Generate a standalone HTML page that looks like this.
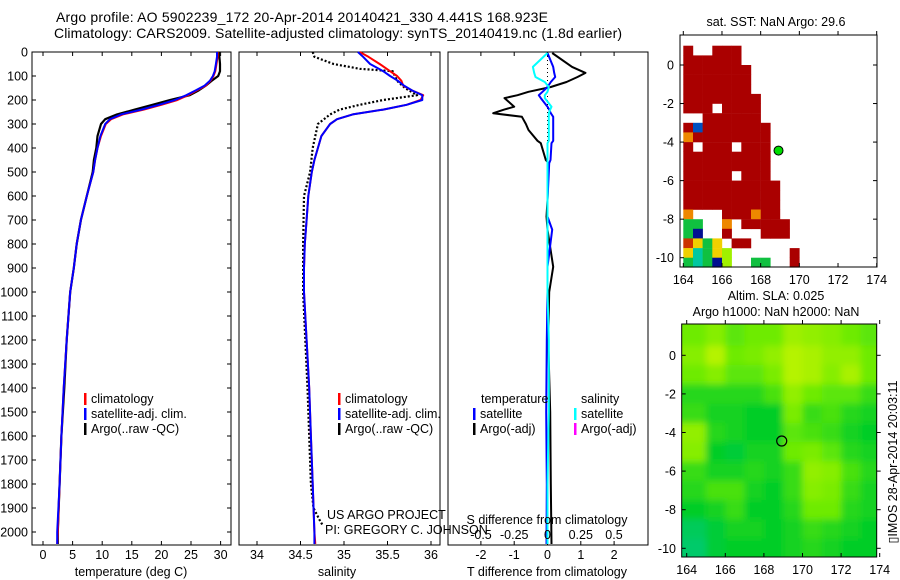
<!DOCTYPE html>
<html><head><meta charset="utf-8"><style>
html,body{margin:0;padding:0;background:#fff;}
svg{display:block;font-family:"Liberation Sans",sans-serif;}
</style></head><body>
<svg id="fig" width="900" height="580" viewBox="0 0 900 580" xmlns="http://www.w3.org/2000/svg">
<defs>
<clipPath id="clipM2"><rect x="681.7" y="324" width="195" height="233"/></clipPath>
<filter id="blur" x="0" y="0" width="1" height="1"><feGaussianBlur stdDeviation="3.5" edgeMode="duplicate"/></filter>
</defs>
<text x="302" y="22" font-size="14" text-anchor="middle" textLength="492">Argo profile: AO 5902239_172 20-Apr-2014 20140421_330 4.441S 168.923E</text>
<text x="338" y="38" font-size="14" text-anchor="middle" textLength="568">Climatology: CARS2009. Satellite-adjusted climatology: synTS_20140419.nc (1.8d earlier)</text>
<g id="layer"></g>
</svg>
<script>
// ---------- data ----------
const depths = [0,20,50,80,100,120,140,160,180,200,220,240,260,280,300,350,400,450,500,600,700,800,900,1000,1200,1400,1600,1800,2000,2050];
const tempClim = [29.5,29.5,29.3,29.1,28.8,28.3,27.5,26.0,24.5,22.7,20.0,17.0,13.5,11.5,10.6,9.8,9.2,8.8,8.5,7.4,6.4,5.7,5.2,4.6,4.0,3.5,3.1,2.8,2.5,2.4];
const tempSat  = [29.4,29.4,29.2,29.0,28.7,28.2,27.3,25.8,24.2,22.3,19.6,16.6,13.2,11.3,10.5,9.7,9.2,8.8,8.5,7.4,6.4,5.7,5.2,4.6,4.0,3.5,3.1,2.8,2.4,2.4];
const tempArgo = [29.7,29.8,29.9,29.9,29.6,28.5,27.5,26.3,24.8,21.5,18.5,15.5,12.5,10.5,9.8,9.2,9.0,8.6,8.4,7.4,6.4,5.7,5.2,4.6,4.0,3.6,3.1,2.8,2.5,2.5];
const salClim = [35.18,35.28,35.41,35.53,35.61,35.66,35.68,35.78,35.91,35.88,35.72,35.45,35.10,34.92,34.84,34.74,34.70,34.66,34.63,34.59,34.57,34.55,34.54,34.54,34.57,34.60,34.62,34.64,34.66,34.67];
const salSat  = [35.16,35.22,35.30,35.45,35.53,35.62,35.69,35.78,35.90,35.90,35.72,35.45,35.10,34.92,34.84,34.74,34.70,34.66,34.63,34.59,34.57,34.55,34.54,34.54,34.57,34.60,34.62,34.64,34.66,34.66];
const argoSalDepths = [0,20,50,70,80,120,150,180,200,220,240,260,300,400,500,600,800,1000,1400,1800,1900,1950,1975];
const salArgo = [34.64,34.66,34.88,35.18,35.56,35.61,35.70,35.84,35.45,35.18,34.95,34.84,34.70,34.64,34.61,34.54,34.53,34.53,34.58,34.62,34.65,34.72,34.76];
const diffDepths = [4,62,87,104,125,146,166,180,192,228,240,255,270,300,325,370,380,450,463,617,686,740,895,1000,1200,1500,1800,2050];
const tDiffArgo = [0.14,0.74,1.14,0.9,0.57,0.1,-0.57,-0.9,-1.29,-1.0,-1.3,-1.63,-0.77,-0.65,-0.57,-0.3,-0.2,-0.05,0.03,0.0,-0.03,0.0,0.17,0.05,0.02,0.08,0.1,0.12];
const tDiffSat  = [0.0,0.17,0.2,0.23,0.1,0.0,-0.15,-0.26,-0.2,0.0,0.05,0.1,0.17,0.17,0.17,0.17,0.12,0.09,0.05,0.0,0.0,0.14,0.0,0.0,-0.02,-0.04,-0.02,-0.03];
const sDiffSat  = [0.0,-0.11,-0.1,-0.09,-0.02,0.01,0.0,-0.02,-0.02,0.03,0.02,0.01,0.01,0.01,0.01,0.01,0.0,0.0,0.0,0.0,0.0,0.0,0.0,0.0,0.01,0.01,0.0,0.0];
const depthTicks = [0,100,200,300,400,500,600,700,800,900,1000,1100,1200,1300,1400,1500,1600,1700,1800,1900,2000];
const tempTicks = [0,5,10,15,20,25,30];
const salTicks = [34,34.5,35,35.5,36];
const salTickLabels = ["34","34.5","35","35.5","36"];
const tDiffTicks = [-2,-1,0,1,2];
const sDiffTicks = [-0.5,-0.25,0,0.25,0.5];
const sDiffLabels = ["-0.5","-0.25","0","0.25","0.5"];
const sstRows = [
"....................",
"R..RRR..............",
"RRRRRR..............",
"RRRRRRR.............",
"RRRRRRR.............",
"RRRRRRR.............",
"RRRRRRRR............",
"RRR.RRRR............",
"..RRRRRR............",
"RbRRRRRRR...........",
"oRRRRRRRR...........",
"R.RRR.RRR...........",
"RRRRRRRRR...........",
"RRRRRRRRR...........",
"RRRRR.RRR...........",
"RRRRRRRRRR..........",
"RRRRRRRRRR..........",
"RRRRRRRRRR..........",
"o...RRRoRR..........",
"gg..o.RRRRR.........",
"gn..R...RRR.........",
"rygy.RR.............",
"ycgyl......R........",
"gcgnl..gg..R........"];
const sstColors = {R:"#aa0000",r:"#cc3300",o:"#ee8800",y:"#f0d000",g:"#10c040",n:"#001090",b:"#0050c0",c:"#00c8a0",l:"#a0f000"};
const slaRows = [
[0.6,0.7,0.55,0.6,0.6,0.8,0.75,0.7,0.6,0.55],
[0.7,0.9,0.6,0.65,0.75,0.9,0.85,0.75,0.75,0.6],
[0.6,0.7,0.55,0.55,0.65,0.9,0.85,0.7,0.85,0.6],
[0.4,0.4,0.4,0.4,0.5,0.75,0.6,0.55,0.55,0.45],
[0.45,0.35,0.35,0.3,0.3,0.65,0.45,0.5,0.4,0.35],
[0.75,0.4,0.35,0.3,0.3,0.55,0.5,0.45,0.35,0.3],
[0.7,0.3,0.25,0.35,0.35,0.6,0.65,0.55,0.4,0.35],
[0.45,0.35,0.35,0.4,0.35,0.45,0.75,0.7,0.5,0.4],
[0.4,0.5,0.5,0.35,0.3,0.45,0.7,0.65,0.45,0.35],
[0.3,0.35,0.45,0.3,0.3,0.4,0.6,0.6,0.4,0.35],
[0.15,0.25,0.35,0.35,0.3,0.35,0.45,0.4,0.35,0.3],
[0.1,0.25,0.3,0.3,0.3,0.35,0.4,0.35,0.3,0.3]];
const lonTicks = [164,166,168,170,172,174];
const latTicks = [0,-2,-4,-6,-8,-10];
const argoPos = [168.923,-4.441];

// ---------- helpers ----------
const NS="http://www.w3.org/2000/svg";
const layer=document.getElementById('layer');
function mk(tag,attrs,parent){const e=document.createElementNS(NS,tag);for(const k in attrs)e.setAttribute(k,attrs[k]);(parent||layer).appendChild(e);return e;}
function txt(x,y,s,size,anchor,parent){const t=mk('text',{x:x,y:y,'font-size':size,'text-anchor':anchor||'middle'},parent);t.textContent=s;return t;}
const yD=d=>52+d*0.24;
const xT=t=>43+t*5.92;
const xS=s=>257+(s-34)*87;
const xTd=v=>547.5+v*33.3;
const xSd=v=>547.5+v*133;
function line(xs,ys,color,w,dash){const p=xs.map((x,i)=>x.toFixed(1)+','+ys[i].toFixed(1)).join(' ');const a={points:p,fill:'none',stroke:color,'stroke-width':w,'stroke-linejoin':'round'};if(dash)a['stroke-dasharray']=dash;return mk('polyline',a);}

const panels=[[32,231],[239,440],[448,648]];
panels.forEach((p,i)=>{const r=mk('rect',{x:p[0],y:52,width:p[1]-p[0],height:493,fill:'none',stroke:'#000','stroke-width':1});

});

depthTicks.forEach(d=>{const y=yD(d);
mk('line',{x1:32,y1:y,x2:36,y2:y,stroke:'#000'});mk('line',{x1:231,y1:y,x2:227,y2:y,stroke:'#000'});
const t=txt(28,y+4.5,String(d),12.5,'end');

});

tempTicks.forEach(v=>{const x=xT(v);mk('line',{x1:x,y1:545,x2:x,y2:541,stroke:'#000'});mk('line',{x1:x,y1:52,x2:x,y2:56,stroke:'#000'});
const t=txt(x,559,String(v),12.5);

});
let at=txt(131,576,'temperature (deg C)',12.5);



salTicks.forEach((v,i)=>{const x=xS(v);mk('line',{x1:x,y1:545,x2:x,y2:541,stroke:'#000'});mk('line',{x1:x,y1:52,x2:x,y2:56,stroke:'#000'});
const t=txt(x,559,salTickLabels[i],12.5);

});
at=txt(337,576,'salinity',12.5);



tDiffTicks.forEach(v=>{const x=xTd(v);mk('line',{x1:x,y1:545,x2:x,y2:541,stroke:'#000'});mk('line',{x1:x,y1:52,x2:x,y2:56,stroke:'#000'});
const t=txt(x,559,String(v),12.5);

});
at=txt(547,576,'T difference from climatology',12.5);



let e;
e=line(tempArgo.map(xT),depths.map(yD),'#000',2.2);


e=line(tempClim.map(xT),depths.map(yD),'#ff0000',2);


e=line(tempSat.map(xT),depths.map(yD),'#0000ff',2);



e=line(salArgo.map(xS),argoSalDepths.map(yD),'#000',2.2,'2,2');


e=line(salClim.map(xS),depths.map(yD),'#ff0000',2);


e=line(salSat.map(xS),depths.map(yD),'#0000ff',2);



mk('line',{x1:xTd(0),y1:52,x2:xTd(0),y2:yD(500),stroke:'#000','stroke-dasharray':'1,3'});
e=line(tDiffArgo.map(xTd),diffDepths.map(yD),'#000',2);


e=line(tDiffSat.map(xTd),diffDepths.map(yD),'#0000ff',2);


e=line(sDiffSat.map(xSd),diffDepths.map(yD),'#00ffff',2);



sDiffTicks.forEach((v,i)=>{const x=xSd(v);const t=txt(x,539,sDiffLabels[i],12.5);

});
at=txt(547,524,'S difference from climatology',12.5);



function legItem(x,y,color,label,name){mk('rect',{x:x,y:y-10,width:2.5,height:12,fill:color});const t=txt(x+7,y,label,12.5,'start');

}
legItem(84,403,'#ff0000','climatology','legend-climatology');
legItem(84,418,'#0000ff','satellite-adj. clim.','legend-satellite-adj');
legItem(84,433,'#000','Argo(..raw -QC)','legend-argo');
legItem(338,403,'#ff0000','climatology','legend-climatology-2');
legItem(338,418,'#0000ff','satellite-adj. clim.','legend-satellite-adj-2');
legItem(338,433,'#000','Argo(..raw -QC)','legend-argo-2');
at=txt(481,403,'temperature',12.5,'start');


at=txt(581,403,'salinity',12.5,'start');


legItem(473,418,'#0000ff','satellite','legend-t-satellite');
legItem(473,433,'#000','Argo(-adj)','legend-t-argo');
legItem(574,418,'#00ffff','satellite','legend-s-satellite');
legItem(574,433,'#ff00ff','Argo(-adj)','legend-s-argo');

at=txt(327,519,'US ARGO PROJECT',12.5,'start');


at=txt(325,534,'PI: GREGORY C. JOHNSON',12.5,'start');



const m1x=lon=>683.3+(lon-164)*19.34, m1y=lat=>65-lat*19.27;
sstRows.forEach((row,i)=>{for(let j=0;j<row.length;j++){const c=row[j];if(c==='.')continue;
const lon=164+0.5*j, lat=1.5-0.5*i;
const r=mk('rect',{x:m1x(lon).toFixed(1),y:m1y(lat).toFixed(1),width:9.9,height:9.9,fill:sstColors[c]});

}});
e=mk('rect',{x:680,y:35,width:197,height:232,fill:'none',stroke:'#000'});


lonTicks.forEach(v=>{const x=m1x(v);mk('line',{x1:x,y1:267,x2:x,y2:263,stroke:'#000'});mk('line',{x1:x,y1:35,x2:x,y2:31,stroke:'#000'});
const t=txt(x,284,String(v),12.5);

});
latTicks.forEach(v=>{const y=m1y(v);mk('line',{x1:680,y1:y,x2:684,y2:y,stroke:'#000'});mk('line',{x1:877,y1:y,x2:873,y2:y,stroke:'#000'});
const t=txt(674,y+4.5,String(v),12.5,'end');

});
e=mk('circle',{cx:m1x(argoPos[0]),cy:m1y(argoPos[1]),r:4.5,fill:'#00dd00',stroke:'#000','stroke-width':1});


at=txt(776,26,'sat. SST: NaN Argo: 29.6',12.5);



const m2x=lon=>686.7+(lon-164)*19.3, m2y=lat=>355.3-lat*19.3;
function slaColor(v){const stops=[[0,[0,200,140]],[0.3,[0,205,40]],[0.6,[110,235,0]],[1,[205,245,0]]];
for(let k=1;k<stops.length;k++){if(v<=stops[k][0]){const a=stops[k-1],b=stops[k];const f=(v-a[0])/(b[0]-a[0]);
return 'rgb('+a[1].map((c,i)=>Math.round(c+(b[1][i]-c)*f)).join(',')+')';}}return 'rgb(205,245,0)';}
const g2=mk('g',{'clip-path':'url(#clipM2)'});
const g2b=mk('g',{filter:'url(#blur)'},g2);
slaRows.forEach((row,i)=>row.forEach((v,j)=>{const lon=163.5+j, lat=1.5-i;
const x0=j===0?m2x(163.3):m2x(lon+0.5), x1=j===9?m2x(174.5):m2x(lon+1.5);
const y0=i===0?m2y(2.0):m2y(lat), y1=i===11?m2y(-11):m2y(lat-1);
const r=mk('rect',{x:x0.toFixed(1),y:y0.toFixed(1),width:(x1-x0+0.5).toFixed(1),height:(y1-y0+0.5).toFixed(1),fill:slaColor(v)},g2b);

}));
e=mk('rect',{x:681.7,y:324,width:195,height:233,fill:'none',stroke:'#000'});


lonTicks.forEach(v=>{const x=m2x(v);mk('line',{x1:x,y1:557,x2:x,y2:553,stroke:'#000'});mk('line',{x1:x,y1:324,x2:x,y2:320,stroke:'#000'});
const t=txt(x,574,String(v),12.5);

});
latTicks.forEach(v=>{const y=m2y(v);mk('line',{x1:681.7,y1:y,x2:685.7,y2:y,stroke:'#000'});mk('line',{x1:876.7,y1:y,x2:880.7,y2:y,stroke:'#000'});
const t=txt(676,y+4.5,String(v),12.5,'end');

});
e=mk('circle',{cx:m2x(argoPos[0]),cy:m2y(argoPos[1]),r:5,fill:'none',stroke:'#000','stroke-width':1.2});


at=txt(776,300,'Altim. SLA: 0.025',12.5);


at=txt(776,316,'Argo h1000: NaN h2000: NaN',12.5);


at=mk('text',{x:0,y:0,'font-size':12.5,'text-anchor':'middle',transform:'translate(897,462) rotate(-90)'});
at.textContent='\u25AFIMOS 28-Apr-2014 20:03:11';


</script>
</body></html>
